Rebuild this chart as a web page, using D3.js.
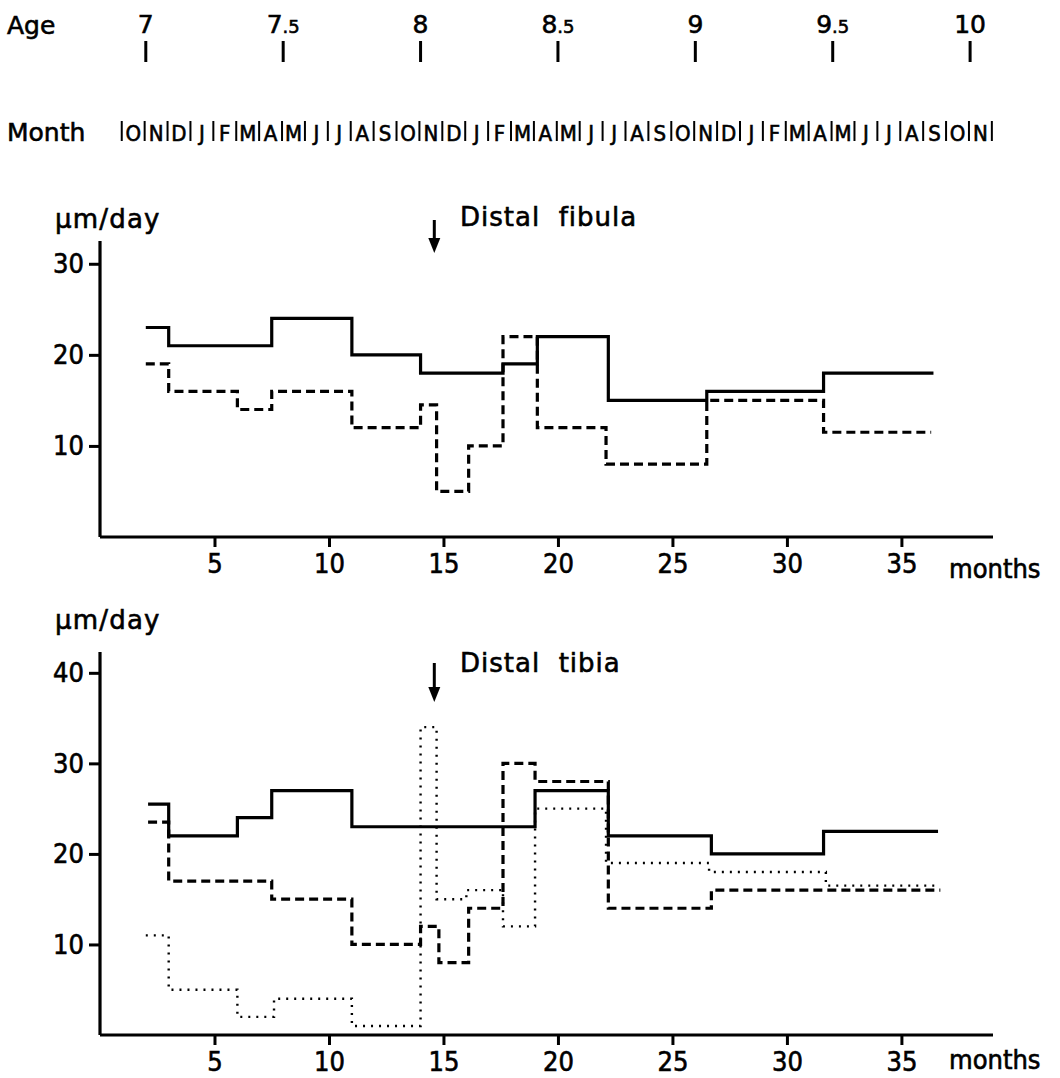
<!DOCTYPE html>
<html>
<head>
<meta charset="utf-8">
<script src="https://cdn.jsdelivr.net/npm/d3@7"></script>
<style>
  body { margin: 0; background: #fff; }
  svg { font-family: "DejaVu Sans", sans-serif; }
  svg text { fill: #000; stroke: #000; stroke-width: 0.6; }
  .axis path, .axis line { stroke: #000; stroke-width: 3; }
  .axis text { font-family: "DejaVu Sans Condensed", "DejaVu Sans", sans-serif; font-size: 27px; }
</style>
</head>
<body>
<div id="chart"></div>
<script>
// Plot constants
const WIDTH = 1060;
const HEIGHT = 1078;

// Header rows
const ageTicks = [7, 7.5, 8, 8.5, 9, 9.5, 10];
const monthLetters = ["O","N","D","J","F","M","A","M","J","J","A","S",
                      "O","N","D","J","F","M","A","M","J","J","A","S",
                      "O","N","D","J","F","M","A","M","J","J","A","S",
                      "O","N"];
const monthRowStart = 0.95;   // months, where the |O| cell begins
const ageAtMonth2 = 7;        // age 7 sits at month 2

const xTicks = [5, 10, 15, 20, 25, 30, 35];
const fibulaYTicks = [10, 20, 30];
const tibiaYTicks = [10, 20, 30, 40];
const arrowMonth = 14.6;

// Distal fibula (step series: start month of each step, value, end month)
const fibSolidMonths = [2, 3, 7.5, 11, 14, 17.6, 19.1, 22.2, 26.5, 31.6];
const fibSolidValues = [23, 21, 24, 20, 18, 19, 22, 15, 16, 18];
const fibSolidEnd = 36.4;

const fibDashMonths = [2, 3, 6, 7.5, 11, 14, 14.7, 16.1, 17.6, 19.1, 22.1, 26.5, 31.6];
const fibDashValues = [19, 16, 14, 16, 12, 14.5, 5, 10, 22, 12, 8, 15, 11.5];
const fibDashEnd = 36.3;

// Distal tibia
const tibSolidMonths = [2.1, 3, 6, 7.5, 11, 19, 22.2, 26.7, 31.6];
const tibSolidValues = [25.5, 22, 24, 27, 23, 27, 22, 20, 22.5];
const tibSolidEnd = 36.6;

const tibDashMonths = [2.1, 3, 7.5, 11, 14, 14.8, 16.1, 17.6, 19, 22.2, 26.7];
const tibDashValues = [23.5, 17, 15, 10, 12, 8, 14, 30, 28, 14, 16];
const tibDashEnd = 36.7;

const tibDotMonths = [2, 3, 6, 7.6, 11, 14, 14.7, 16, 17.6, 19, 22.1, 26.6, 31.7];
const tibDotValues = [11, 5, 2, 4, 1, 34, 15, 16, 12, 25, 19, 18, 16.5];
const tibDotEnd = 36.6;

function steps(months, values, end) {
  const pts = months.map((m, i) => [m, values[i]]);
  pts.push([end, values[values.length - 1]]);
  return pts;
}

const svg = d3.select("#chart").append("svg")
  .attr("width", WIDTH)
  .attr("height", HEIGHT);

// shared month scale
const x = d3.scaleLinear().domain([0, 39]).range([100, 993]);

// Age row
svg.append("text").attr("x", 7).attr("y", 34)
  .attr("font-size", 25).text("Age");

const ageG = svg.append("g");
ageTicks.forEach(a => {
  const xm = x(2 + (a - ageAtMonth2) * 12);
  const t = ageG.append("text").attr("x", xm).attr("y", 33)
    .attr("text-anchor", "middle").attr("font-size", 25);
  const whole = Math.floor(a);
  t.append("tspan").text(whole);
  if (a !== whole) t.append("tspan").attr("font-size", 18).text(".5");
  ageG.append("line").attr("x1", xm).attr("x2", xm)
    .attr("y1", 41).attr("y2", 62)
    .attr("stroke", "#000").attr("stroke-width", 3);
});

// Month row
svg.append("text").attr("x", 7).attr("y", 141)
  .attr("font-size", 25).text("Month");

const monthG = svg.append("g");
monthLetters.forEach((l, i) => {
  const x0 = x(monthRowStart + i), x1 = x(monthRowStart + i + 1);
  monthG.append("line").attr("x1", x0).attr("x2", x0)
    .attr("y1", 121).attr("y2", 141)
    .attr("stroke", "#000").attr("stroke-width", 2);
  monthG.append("text").attr("x", (x0 + x1) / 2).attr("y", 141)
    .attr("text-anchor", "middle")
    .attr("font-family", "'DejaVu Sans Condensed', sans-serif")
    .attr("font-size", 22).text(l);
});
{
  const xe = x(monthRowStart + monthLetters.length);
  monthG.append("line").attr("x1", xe).attr("x2", xe)
    .attr("y1", 121).attr("y2", 141)
    .attr("stroke", "#000").attr("stroke-width", 2);
}

function panel(cfg) {
  const y = d3.scaleLinear().domain(cfg.yDomain).range([cfg.bottom, cfg.top]);
  const g = svg.append("g");

  // axes: d3 ticks, plus heavy axis lines
  g.append("g").attr("class", "axis")
    .attr("transform", `translate(0,${cfg.bottom})`)
    .call(d3.axisBottom(x).tickValues(xTicks).tickSize(10).tickPadding(7).tickSizeOuter(0))
    .call(s => s.select(".domain").remove());
  g.append("g").attr("class", "axis")
    .attr("transform", `translate(${x(0)},0)`)
    .call(d3.axisLeft(y).tickValues(cfg.yTicks).tickSize(11).tickPadding(5).tickSizeOuter(0))
    .call(s => s.select(".domain").remove());

  g.append("line").attr("x1", x(0)).attr("x2", x(39))
    .attr("y1", cfg.bottom).attr("y2", cfg.bottom)
    .attr("stroke", "#000").attr("stroke-width", 3.2);
  g.append("line").attr("x1", x(0)).attr("x2", x(0))
    .attr("y1", cfg.bottom).attr("y2", y(cfg.yDomain[1]))
    .attr("stroke", "#000").attr("stroke-width", 3.2);

  g.append("text").attr("x", 949).attr("y", cfg.monthsY)
    .attr("font-family", "'DejaVu Sans Condensed', sans-serif")
    .attr("font-size", 27).text("months");

  g.append("text").attr("x", 55).attr("y", cfg.unitY)
    .attr("font-size", 26).attr("letter-spacing", 1.2).text("µm/day");

  g.append("text").attr("x", 460).attr("y", cfg.titleY)
    .attr("font-size", 26).attr("letter-spacing", 1)
    .style("white-space", "pre").text(cfg.title);

  // arrow
  const ax = x(arrowMonth);
  g.append("line").attr("x1", ax).attr("x2", ax)
    .attr("y1", cfg.arrowTop).attr("y2", cfg.arrowBottom - 10)
    .attr("stroke", "#000").attr("stroke-width", 3);
  g.append("path")
    .attr("d", `M${ax - 6},${cfg.arrowBottom - 15}L${ax + 6},${cfg.arrowBottom - 15}L${ax},${cfg.arrowBottom}Z`)
    .attr("fill", "#000");

  const line = d3.line()
    .x(d => x(d[0]))
    .y(d => y(d[1]))
    .curve(d3.curveStepAfter);

  cfg.series.forEach(s => {
    g.append("path")
      .datum(steps(s.months, s.values, s.end))
      .attr("d", line)
      .attr("fill", "none")
      .attr("stroke", "#000")
      .attr("stroke-width", s.width)
      .attr("stroke-dasharray", s.dash);
  });
}

panel({
  top: 241, bottom: 537, yDomain: [0, 32.5], yTicks: fibulaYTicks,
  unitY: 228, title: "Distal  fibula", titleY: 226, monthsY: 578,
  arrowTop: 220, arrowBottom: 253,
  series: [
    {months: fibSolidMonths, values: fibSolidValues, end: fibSolidEnd, width: 3.2, dash: null},
    {months: fibDashMonths, values: fibDashValues, end: fibDashEnd, width: 3.2, dash: "9,5"}
  ]
});

panel({
  top: 652, bottom: 1035, yDomain: [0, 42.3], yTicks: tibiaYTicks,
  unitY: 629, title: "Distal  tibia", titleY: 672, monthsY: 1069,
  arrowTop: 663, arrowBottom: 702,
  series: [
    {months: tibSolidMonths, values: tibSolidValues, end: tibSolidEnd, width: 3.2, dash: null},
    {months: tibDashMonths, values: tibDashValues, end: tibDashEnd, width: 3.2, dash: "9,5"},
    {months: tibDotMonths, values: tibDotValues, end: tibDotEnd, width: 2.4, dash: "2,6"}
  ]
});
</script>
</body>
</html>
